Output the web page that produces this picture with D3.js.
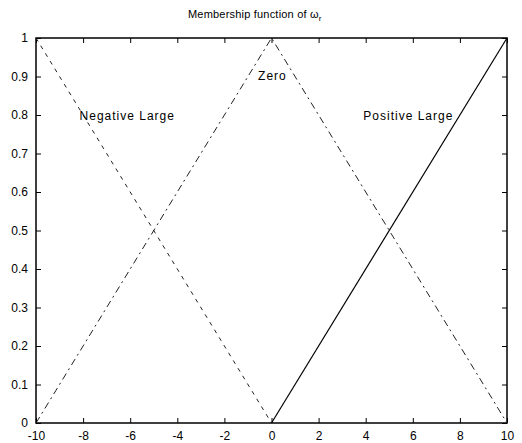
<!DOCTYPE html>
<html><head><meta charset="utf-8">
<script src="https://cdn.jsdelivr.net/npm/d3@7"></script>
<style>body{margin:0;background:#fff}svg{display:block}text{font-family:"Liberation Sans",Arial,sans-serif;fill:#000}</style>
</head><body>
<script>
const xTicks = [-10,-8,-6,-4,-2,0,2,4,6,8,10];
const yTicks = [0,0.1,0.2,0.3,0.4,0.5,0.6,0.7,0.8,0.9,1];
const negLarge = [[-10,1],[0,0]];
const zero = [[-10,0],[0,1],[10,0]];
const posLarge = [[0,0],[10,1]];
const labels = [{t:"Negative Large",x:-8.15,y:0.787},{t:"Zero",x:-0.57,y:0.89},{t:"Positive Large",x:3.9,y:0.787}];

const W=522,H=443, L=36,R=507,T=38,B=423;
const svg=d3.select("body").append("svg").attr("width",W).attr("height",H);
const x=d3.scaleLinear().domain([-10,10]).range([L,R]);
const y=d3.scaleLinear().domain([0,1]).range([B,T]);

svg.append("text").attr("x",188).attr("y",18).attr("font-size",11).attr("letter-spacing",0.2)
  .text("Membership function of ω").append("tspan").attr("font-size",8).attr("dy",3).text("r");

const fmt=d=>d===0?"0":d===1?"1":String(d);
svg.append("g").attr("transform",`translate(0,${B})`).call(d3.axisBottom(x).tickValues(xTicks).tickSizeInner(-5).tickSizeOuter(0).tickPadding(8).tickFormat(d=>d))
  .call(g=>{g.select(".domain").remove();g.selectAll("text").attr("font-size",12).attr("font-family","Liberation Sans, Arial")});
svg.append("g").attr("transform",`translate(0,${T})`).call(d3.axisTop(x).tickValues(xTicks).tickSizeInner(-5).tickSizeOuter(0).tickFormat(""))
  .call(g=>g.select(".domain").remove());
svg.append("g").attr("transform",`translate(${L},0)`).call(d3.axisLeft(y).tickValues(yTicks).tickSizeInner(-5).tickSizeOuter(0).tickPadding(8).tickFormat(fmt))
  .call(g=>{g.select(".domain").remove();g.selectAll("text").attr("font-size",12).attr("font-family","Liberation Sans, Arial")});
svg.append("g").attr("transform",`translate(${R},0)`).call(d3.axisRight(y).tickValues(yTicks).tickSizeInner(-5).tickSizeOuter(0).tickFormat(""))
  .call(g=>g.select(".domain").remove());
svg.append("rect").attr("x",L).attr("y",T).attr("width",R-L).attr("height",B-T).attr("fill","none").attr("stroke","#000").attr("stroke-width",1.5);

const line=d3.line().x(d=>x(d[0])).y(d=>y(d[1]));
svg.append("path").datum(negLarge).attr("d",line).attr("fill","none").attr("stroke","#222").attr("stroke-width",1).attr("stroke-dasharray","4,5");
svg.append("path").datum(zero).attr("d",line).attr("fill","none").attr("stroke","#222").attr("stroke-width",1).attr("stroke-dasharray","7,4,2,4");
svg.append("path").datum(posLarge).attr("d",line).attr("fill","none").attr("stroke","#000").attr("stroke-width",1.2);

svg.selectAll(".lbl").data(labels).join("text").attr("x",d=>x(d.x)).attr("y",d=>y(d.y)).attr("font-size",12).attr("letter-spacing",1).text(d=>d.t);
</script>
</body></html>
